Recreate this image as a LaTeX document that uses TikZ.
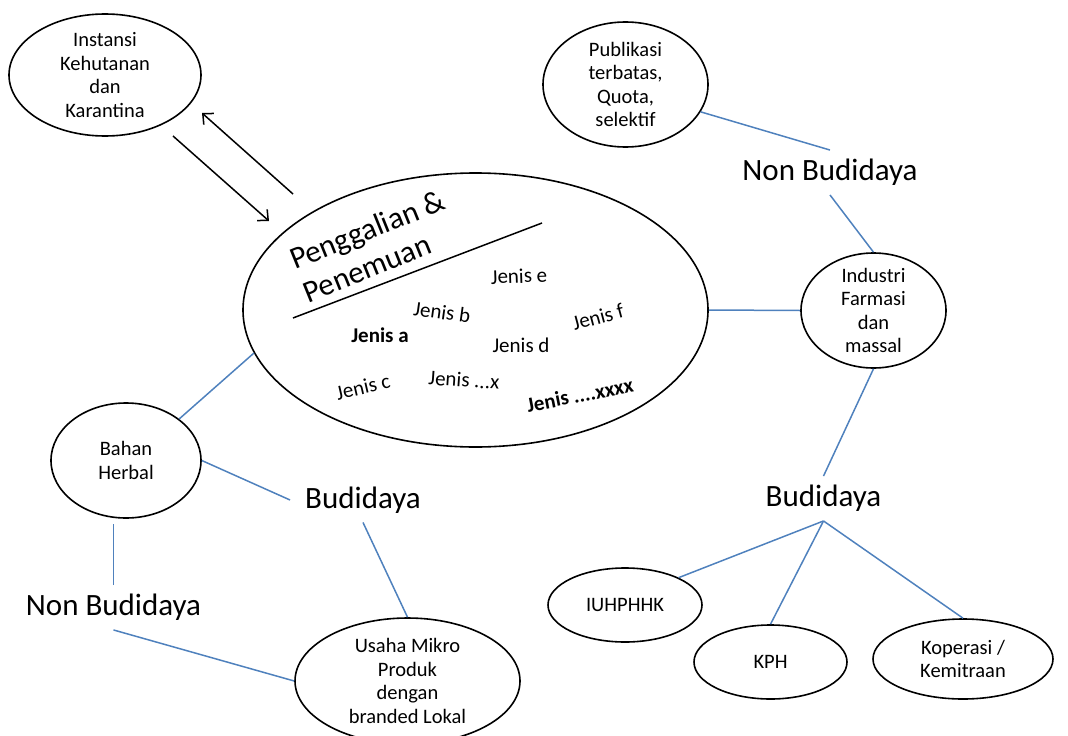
\documentclass[tikz,border=0pt]{standalone}
\usepackage{fontspec}
\setmainfont{Carlito}
\usetikzlibrary{shapes.geometric,arrows.meta}
\definecolor{linkblue}{RGB}{79,129,189}

\begin{document}
\begin{tikzpicture}[x=1pt,y=-1pt,
  bubble/.style={draw,ellipse,line width=1.6pt,inner xsep=0pt,inner ysep=-6pt,align=center,font=\fontsize{20.5}{23.5}\selectfont},
  big/.style={font=\fontsize{31}{36}\selectfont,inner sep=9pt},
  jenis/.style={font=\fontsize{21}{25}\selectfont,inner sep=0pt},
  link/.style={linkblue,line width=1.5pt},
  flow/.style={line width=1.5pt,-{Straight Barb[length=8pt,width=15pt]}}]

\clip (0,0) rectangle (1068,736);

%---------------------------------------------------
% bubbles
\node[bubble,minimum width=192pt,minimum height=122pt] (instansi) at (105,75) {Instansi\\Kehutanan\\dan\\Karantina};
\node[bubble,minimum width=465pt,minimum height=274pt] (galian) at (475.5,310) {};
\node[bubble,minimum width=165pt,minimum height=125pt] (pub) at (625.5,84.5) {Publikasi\\terbatas,\\Quota,\\selektif};
\node[bubble,minimum width=145pt,minimum height=115pt] (industri) at (873.5,310.5) {Industri\\Farmasi\\dan\\massal};
\node[bubble,minimum width=154pt,minimum height=74pt] (iuh) at (625,605) {IUHPHHK};
\node[bubble,minimum width=153pt,minimum height=74pt] (kph) at (770.5,662) {KPH};
\node[bubble,minimum width=180pt,minimum height=80pt] (kop) at (963,659) {Koperasi /\\Kemitraan};
\node[bubble,minimum width=150pt,minimum height=115pt] (bahan) at (126,460.5) {Bahan\\Herbal};
\node[bubble,minimum width=225pt,minimum height=126pt] (usaha) at (407.5,681) {Usaha Mikro\\Produk\\dengan\\branded Lokal};

% big labels
\node[big] (nbR) at (830,172.5) {Non Budidaya};
\node[big] (budR) at (823.5,498.5) {Budidaya};
\node[big] (budL) at (363,500) {Budidaya};
\node[big] (nbL) at (113.5,607.5) {Non Budidaya};

%---------------------------------------------------
% inside the big ellipse
\node[font=\fontsize{31}{36}\selectfont,rotate=22,align=left,inner sep=0pt] (judul) at (374,246) {Penggalian \&\\Penemuan};
\draw[line width=1.5pt] (293,318) -- (542,223);

\node[jenis,rotate=2] (je) at (519,276) {Jenis e};
\node[jenis,rotate=-8] (jb) at (442,312) {Jenis b};
\node[jenis,font=\fontsize{21}{25}\selectfont\bfseries] (ja) at (380,335) {Jenis a};
\node[jenis] (jd) at (521,345) {Jenis d};
\node[jenis,rotate=15] (jf) at (598,317) {Jenis f};
\node[jenis,rotate=13] (jc) at (363,387) {Jenis c};
\node[jenis,rotate=-4] (jx) at (464,380) {Jenis ...x};
\node[jenis,rotate=11,font=\fontsize{21}{25}\selectfont\bfseries] (jxxxx) at (580,395) {Jenis ....xxxx};

%---------------------------------------------------
% arrows to/from Instansi
\coordinate (keluar) at (173,136);
\coordinate (masuk) at (269,221);
\coordinate (balik) at (293,194);
\coordinate (tuju) at (202,113);
\draw[flow] (keluar) -- (masuk);
\draw[flow] (balik) -- (tuju);

%---------------------------------------------------
% right side
\draw[link] (pub.340) -- (nbR.north);
\draw[link] (nbR.south) -- (industri.north);
\draw[link] (galian.east) -- (industri.west);
\draw[link] (industri.south) -- (budR.north);
\draw[link] (budR.south) -- (iuh.27);
\draw[link] (budR.south) -- (kph.north);
\draw[link] (budR.south) -- (kop.north);

% left side
\draw[link] (galian.191) -- (bahan.38);
\draw[link] (bahan.east) -- ([xshift=-6pt]budL.west);
\draw[link] (budL.south) -- (usaha.north);
\draw[link,shorten >=5pt] (nbL.north) -- (nbL.north |- bahan.south);
\draw[link] (nbL.south) -- (usaha.west);

\end{tikzpicture}
\end{document}
